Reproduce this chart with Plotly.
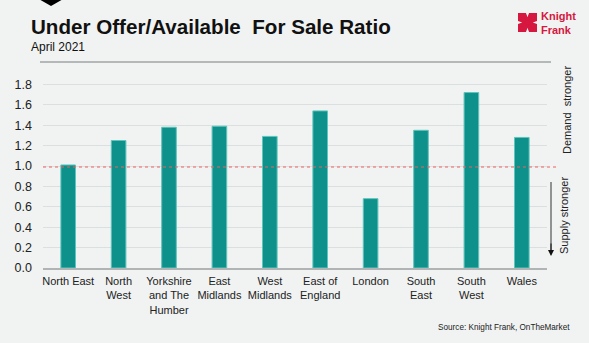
import plotly.graph_objects as go

categories = ["North East", "North<br>West", "Yorkshire<br>and The<br>Humber", "East<br>Midlands",
              "West<br>Midlands", "East of<br>England", "London", "South<br>East", "South<br>West", "Wales"]
ratio = [1.01, 1.25, 1.38, 1.39, 1.29, 1.54, 0.68, 1.35, 1.72, 1.28]
y_ticks = [0.0, 0.2, 0.4, 0.6, 0.8, 1.0, 1.2, 1.4, 1.6, 1.8]
y_tick_labels = ["0.0", "0.2", "0.4", "0.6", "0.8", "1.0", "1.2", "1.4", "1.6", "1.8"]

W, H = 589, 343
L, R, T, B = 43, 42, 64, 75

def px(x):
    return (x - L) / (W - L - R)

def py(y):
    return 1 - (y - T) / (H - T - B)

fig = go.Figure()
fig.add_trace(go.Bar(
    x=categories, y=ratio,
    marker=dict(color="#0e918a", line=dict(color="#5fc4bd", width=1)),
    width=0.29,
))

shapes = []
# top separator line
shapes.append(dict(type="line", xref="paper", yref="paper", x0=px(40), x1=px(551), y0=py(62), y1=py(62),
                   line=dict(color="#b4b8b8", width=2)))
# reference line at 1.0
shapes.append(dict(type="line", xref="paper", yref="y", x0=0, x1=px(557), y0=0.99, y1=0.99,
                   line=dict(color="#ee6060", width=1.2, dash="dot")))
# supply arrow line
shapes.append(dict(type="line", xref="paper", yref="paper", x0=px(551), x1=px(551), y0=py(182), y1=py(250),
                   line=dict(color="#333333", width=1)))
# top-left black chevron
shapes.append(dict(type="path", xref="paper", yref="paper",
                   path=f"M {px(37)},{py(-2)} L {px(65)},{py(-2)} L {px(51)},{py(6)} Z",
                   fillcolor="black", line=dict(width=0)))
# logo
lx0, ly0, s = 518, 13, 19
def P(a, b):
    return f"{px(lx0 + a * s)},{py(ly0 + b * s)}"
logo_path = ("M " + P(0, 0) + " L " + P(0.42, 0) + " L " + P(0.5, 0.22) + " L " + P(0.58, 0) + " L " + P(1, 0)
             + " L " + P(1, 0.42) + " L " + P(0.78, 0.5) + " L " + P(1, 0.58) + " L " + P(1, 1)
             + " L " + P(0.58, 1) + " L " + P(0.5, 0.78) + " L " + P(0.42, 1) + " L " + P(0, 1)
             + " L " + P(0, 0.58) + " L " + P(0.22, 0.5) + " L " + P(0, 0.42) + " Z")
shapes.append(dict(type="path", xref="paper", yref="paper", path=logo_path,
                   fillcolor="#d6173f", line=dict(width=0)))
shapes.append(dict(type="path", xref="paper", yref="paper",
                   path="M " + P(0.5, 0.32) + " L " + P(0.68, 0.5) + " L " + P(0.5, 0.68) + " L " + P(0.32, 0.5) + " Z",
                   fillcolor="#d6173f", line=dict(width=0)))

annotations = [
    dict(text="<b>Under Offer/Available  For Sale Ratio</b>", x=px(29), y=py(26), xref="paper", yref="paper",
         xanchor="left", yanchor="middle", showarrow=False, font=dict(size=20.6, color="#111111", family="Arial")),
    dict(text="April 2021", x=px(29), y=py(47), xref="paper", yref="paper",
         xanchor="left", yanchor="middle", showarrow=False, font=dict(size=12, color="#111111", family="Arial")),
    dict(text="<b>Knight<br>Frank</b>", x=px(539), y=py(23), xref="paper", yref="paper",
         xanchor="left", yanchor="middle", showarrow=False, align="left",
         font=dict(size=11, color="#d6173f", family="Arial")),
    dict(text="Demand  stronger", x=px(567), y=py(110), xref="paper", yref="paper", textangle=-90,
         xanchor="center", yanchor="middle", showarrow=False, font=dict(size=11, color="#222222", family="Arial")),
    dict(text="Supply stronger", x=px(564), y=py(216), xref="paper", yref="paper", textangle=-90,
         xanchor="center", yanchor="middle", showarrow=False, font=dict(size=11, color="#222222", family="Arial")),
    dict(text="", x=px(551), y=py(256), ax=0, ay=-14, xref="paper", yref="paper",
         axref="pixel", ayref="pixel", showarrow=True, arrowhead=2, arrowsize=1.2, arrowwidth=1,
         arrowcolor="#111111"),
    dict(text="Source: Knight Frank, OnTheMarket", x=px(572), y=py(327), xref="paper", yref="paper",
         xanchor="right", yanchor="middle", showarrow=False, font=dict(size=8.2, color="#222222", family="Arial")),
]

fig.update_layout(
    width=W, height=H,
    margin=dict(l=L, r=R, t=T, b=B),
    paper_bgcolor="#f0f3f2", plot_bgcolor="#f0f3f2",
    showlegend=False,
    bargap=0.7,
    shapes=shapes,
    annotations=annotations,
    font=dict(family="Arial", color="#222222"),
)
fig.update_xaxes(showgrid=False, showline=True, linecolor="#b0b4b4", linewidth=1.5,
                 tickfont=dict(size=11, color="#222222"), ticks="", tickangle=0, ticklabelstandoff=2)
fig.update_yaxes(range=[0, 2.0], tickvals=y_ticks, ticktext=y_tick_labels, showgrid=True,
                 gridcolor="#dcdfdf", gridwidth=1, zeroline=False, showline=False,
                 tickfont=dict(size=12.5, color="#222222"), ticks="", ticklabelstandoff=10)

fig.write_html("out.html")
